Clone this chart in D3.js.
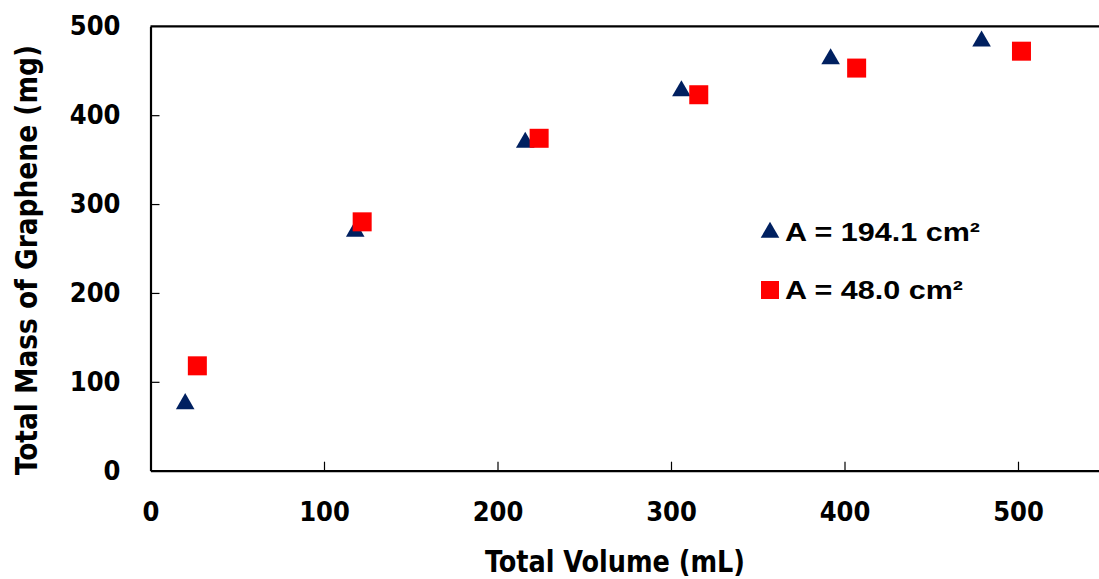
<!DOCTYPE html>
<html><head><meta charset="utf-8">
<script src="https://cdn.jsdelivr.net/npm/d3@7"></script>
<style>body{margin:0;background:#fff;} svg{display:block;}</style>
</head><body>
<svg id="c" width="1099" height="579"></svg>
<script>
const xTicks = [0, 100, 200, 300, 400, 500];
const yTicks = [0, 100, 200, 300, 400, 500];
const seriesA_x = [20, 118, 216, 306, 392, 479];
const seriesA_y = [77, 271, 371, 429, 465, 485];
const seriesB_x = [27, 122, 224, 316, 407, 502];
const seriesB_y = [118, 280, 374, 423, 453, 472];
const legendLabels = ["A = 194.1 cm²", "A = 48.0 cm²"];

const svg = d3.select("#c");
const W = 1099, H = 579;
const x = d3.scaleLinear().domain([0, 550]).range([150.5, 150.5 + 550 * 1.735]);
const y = d3.scaleLinear().domain([0, 500]).range([470.7, 26.3]);
const tickFont = "'DejaVu Sans Condensed','DejaVu Sans',sans-serif";

// frame: top border
svg.append("line").attr("x1", x(0)).attr("x2", W + 5).attr("y1", y(500)).attr("y2", y(500))
  .attr("stroke", "#000").attr("stroke-width", 2.2);

// x axis
const xa = svg.append("g").attr("transform", `translate(0,${y(0)})`)
  .call(d3.axisBottom(x).tickValues(xTicks).tickSizeInner(-9).tickSizeOuter(0).tickPadding(31).tickFormat(d3.format("d")));
xa.select(".domain").attr("stroke-width", 2.2);
xa.selectAll(".tick line").attr("stroke-width", 1.2).filter(d => d === 0).remove();
xa.selectAll("text").attr("font-family", tickFont).attr("font-weight", "bold").attr("font-size", 27)
  .attr("fill", "#000").style("font-stretch", "condensed");

// y axis
const ya = svg.append("g").attr("transform", `translate(${x(0)},0)`)
  .call(d3.axisLeft(y).tickValues(yTicks).tickSizeInner(-9).tickSizeOuter(0).tickPadding(30).tickFormat(d3.format("d")));
ya.select(".domain").attr("stroke-width", 2.2);
ya.selectAll(".tick line").attr("stroke-width", 1.2).filter(d => d === 0 || d === 500).remove();
ya.selectAll("text").attr("font-family", tickFont).attr("font-weight", "bold").attr("font-size", 27)
  .attr("fill", "#000").style("font-stretch", "condensed");

// axis titles
svg.append("text").attr("x", 615).attr("y", 572).attr("text-anchor", "middle")
  .attr("font-family", tickFont).attr("font-weight", "bold").attr("font-size", 30)
  .style("font-stretch", "condensed").attr("textLength", 260).attr("lengthAdjust", "spacingAndGlyphs")
  .text("Total Volume (mL)");
svg.append("text").attr("transform", "translate(37,260) rotate(-90)").attr("text-anchor", "middle")
  .attr("font-family", tickFont).attr("font-weight", "bold").attr("font-size", 30)
  .style("font-stretch", "condensed").attr("textLength", 430).attr("lengthAdjust", "spacingAndGlyphs")
  .text("Total Mass of Graphene (mg)");

const tri = d3.symbol().type(d3.symbolTriangle).size(150);
const navy = "#002060", red = "#ff0000";

svg.append("g").selectAll("path").data(seriesA_x.map((v, i) => [v, seriesA_y[i]])).join("path")
  .attr("d", tri).attr("fill", navy)
  .attr("transform", d => `translate(${x(d[0])},${y(d[1]) + 1.5})`);

const sq = 19;
svg.append("g").selectAll("rect").data(seriesB_x.map((v, i) => [v, seriesB_y[i]])).join("rect")
  .attr("x", d => x(d[0]) - sq / 2).attr("y", d => y(d[1]) - sq / 2)
  .attr("width", sq).attr("height", sq).attr("fill", red);

// legend
const lg = svg.append("g");
lg.append("path").attr("d", tri).attr("fill", navy).attr("transform", "translate(770,232.5)");
lg.append("rect").attr("x", 761).attr("y", 281).attr("width", 18).attr("height", 18).attr("fill", red);
const legendWidths = [195, 178];
lg.selectAll("text").data(legendLabels).join("text")
  .attr("x", 785).attr("y", (d, i) => 241 + i * 58)
  .attr("font-family", "'Liberation Sans',Arial,sans-serif").attr("font-weight", "bold").attr("font-size", 25)
  .attr("textLength", (d, i) => legendWidths[i]).attr("lengthAdjust", "spacingAndGlyphs")
  .attr("fill", "#000").text(d => d);
</script>
</body></html>
